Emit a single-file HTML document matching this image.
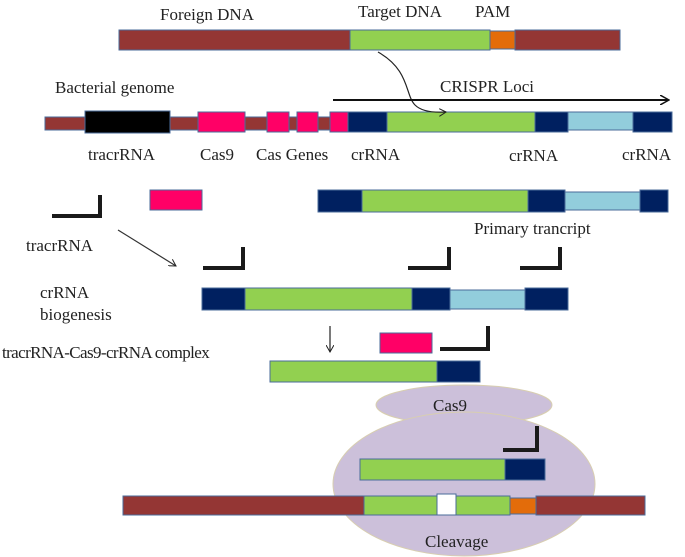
<!DOCTYPE html>
<html><head><meta charset="utf-8"><style>
body{margin:0;background:#fff}
svg{display:block}
text{font-family:"Liberation Serif",serif;font-size:17px;fill:#222}
</style></head><body>
<svg width="685" height="557" viewBox="0 0 685 557" xmlns="http://www.w3.org/2000/svg">
<defs><marker id="a" markerWidth="10" markerHeight="10" refX="8" refY="5" orient="auto" markerUnits="userSpaceOnUse"><path d="M0,0 L9,5 L0,10" fill="none" stroke="#111" stroke-width="1.5"/></marker>
<marker id="b" markerWidth="8" markerHeight="8" refX="7" refY="4" orient="auto" markerUnits="userSpaceOnUse"><path d="M0,0 L7,4 L0,8" fill="none" stroke="#222" stroke-width="1"/></marker></defs>
<g stroke="#4a6b9a" stroke-width="1">
<rect x="119" y="30" width="231" height="20" fill="#943634"/>
<rect x="350" y="30" width="140" height="20" fill="#92d050"/>
<rect x="490" y="31" width="25" height="18" fill="#e36c0a"/>
<rect x="515" y="30" width="105" height="20" fill="#943634"/>
<rect x="45" y="117" width="300" height="13" fill="#943634"/>
<rect x="85" y="111" width="85" height="22" fill="#000"/>
<rect x="198" y="112" width="47" height="20" fill="#ff0066"/>
<rect x="267" y="112" width="22" height="20" fill="#ff0066"/>
<rect x="297" y="112" width="21" height="20" fill="#ff0066"/>
<rect x="330" y="112" width="18" height="20" fill="#ff0066"/>
<rect x="348" y="112" width="39" height="20" fill="#002060"/>
<rect x="387" y="112" width="148" height="20" fill="#92d050"/>
<rect x="535" y="112" width="33" height="20" fill="#002060"/>
<rect x="568" y="112" width="65" height="18" fill="#92cddc"/>
<rect x="633" y="112" width="39" height="20" fill="#002060"/>
<rect x="150" y="190" width="52" height="20" fill="#ff0066"/>
<rect x="318" y="190" width="44" height="22" fill="#002060"/>
<rect x="362" y="190" width="166" height="22" fill="#92d050"/>
<rect x="528" y="190" width="37" height="22" fill="#002060"/>
<rect x="565" y="192" width="75" height="18" fill="#92cddc"/>
<rect x="640" y="190" width="28" height="22" fill="#002060"/>
<rect x="202" y="288" width="43" height="22" fill="#002060"/>
<rect x="245" y="288" width="167" height="22" fill="#92d050"/>
<rect x="412" y="288" width="38" height="22" fill="#002060"/>
<rect x="450" y="290" width="75" height="19" fill="#92cddc"/>
<rect x="525" y="288" width="43" height="22" fill="#002060"/>
<rect x="380" y="333" width="52" height="20" fill="#ff0066"/>
<rect x="270" y="361" width="167" height="21" fill="#92d050"/>
<rect x="437" y="361" width="43" height="21" fill="#002060"/>
</g>
<ellipse cx="464" cy="405" rx="88" ry="20" fill="#ccc0da" stroke="#d8ceb0"/>
<ellipse cx="464" cy="484" rx="131" ry="72" fill="#ccc0da" stroke="#d8ceb0"/>
<g stroke="#4a6b9a" stroke-width="1">
<rect x="360" y="459" width="145" height="21" fill="#92d050"/>
<rect x="505" y="459" width="40" height="21" fill="#002060"/>
<rect x="123" y="496" width="241" height="19" fill="#943634"/>
<rect x="364" y="496" width="73" height="19" fill="#92d050"/>
<rect x="437" y="494" width="19" height="21" fill="#fff"/>
<rect x="456" y="496" width="54" height="19" fill="#92d050"/>
<rect x="510" y="498" width="26" height="16" fill="#e36c0a"/>
<rect x="536" y="496" width="109" height="19" fill="#943634"/>
</g>
<g fill="none" stroke="#1a1a1a" stroke-width="4">
<path d="M52,216 H100 V195"/>
<path d="M203,268 H243 V247"/>
<path d="M408,268 H449 V247"/>
<path d="M520,268 H560 V247"/>
<path d="M440,349 H488 V326"/>
<path d="M503,450 H537 V426"/>
</g>
<path d="M378,52 C410,70 405,95 415,105 C420,110 430,113 446,112" fill="none" stroke="#222" stroke-width="1.2" marker-end="url(#b)"/>
<line x1="333" y1="100" x2="668" y2="100" stroke="#111" stroke-width="2" marker-end="url(#a)"/>
<line x1="118" y1="230" x2="176" y2="266" stroke="#333" stroke-width="1.2" marker-end="url(#b)"/>
<line x1="330" y1="326" x2="330" y2="352" stroke="#222" stroke-width="1.2" marker-end="url(#b)"/>
<text x="160" y="20">Foreign DNA</text>
<text x="358" y="17">Target DNA</text>
<text x="475" y="17">PAM</text>
<text x="55" y="93">Bacterial genome</text>
<text x="440" y="92">CRISPR Loci</text>
<text x="88" y="160">tracrRNA</text>
<text x="200" y="160">Cas9</text>
<text x="256" y="160">Cas Genes</text>
<text x="351" y="160">crRNA</text>
<text x="509" y="161">crRNA</text>
<text x="622" y="160">crRNA</text>
<text x="474" y="234">Primary trancript</text>
<text x="26" y="251">tracrRNA</text>
<text x="40" y="298">crRNA</text>
<text x="40" y="320">biogenesis</text>
<text x="2" y="358" style="letter-spacing:-0.6px">tracrRNA-Cas9-crRNA complex</text>
<text x="433" y="411">Cas9</text>
<text x="425" y="547">Cleavage</text>
</svg>
</body></html>
